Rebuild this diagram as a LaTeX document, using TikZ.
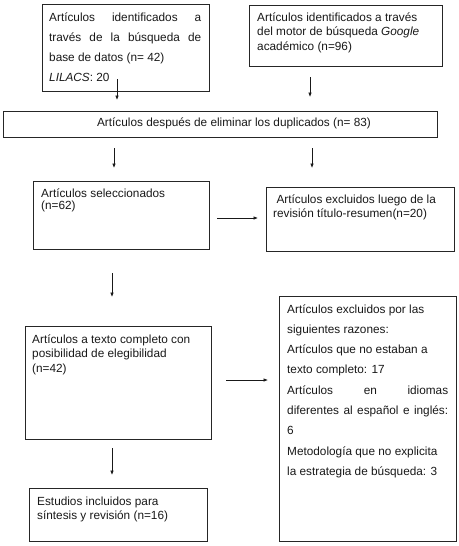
\documentclass[tikz,border=0pt]{standalone}
\usepackage{fontspec}
\setmainfont{Liberation Sans}
\usetikzlibrary{arrows.meta}
\begin{document}
\begin{tikzpicture}[x=1pt,y=-1pt,
  box/.style={draw=black!85, line width=0.8pt, inner sep=0pt, anchor=north west},
  txt/.style={anchor=base west, inner sep=0pt, text=black!90},
  fs/.style={font=\fontsize{11.8}{14.5}\selectfont},
  fswide/.style={font=\fontsize{11.8}{20.3}\selectfont},
  fstight/.style={font=\fontsize{11.8}{12}\selectfont},
  arr/.style={-{Latex[length=4.5pt,width=3.6pt]}, line width=0.7pt, draw=black!90}]
\useasboundingbox (0,0) rectangle (458,546);
\fill[white] (0,0) rectangle (458,546);
% boxes
\node[box, minimum width=167pt, minimum height=87pt] (b1) at (42,4) {};
\node[box, minimum width=193pt, minimum height=61pt] (b2) at (249,5) {};
\node[box, minimum width=434pt, minimum height=26pt] (b3) at (3,111) {};
\node[box, minimum width=176pt, minimum height=68pt] (b4) at (33,181) {};
\node[box, minimum width=188pt, minimum height=64pt] (b5) at (266,187) {};
\node[box, minimum width=186pt, minimum height=113pt] (b6) at (25,326) {};
\node[box, minimum width=177pt, minimum height=245pt] (b7) at (279,296) {};
\node[box, minimum width=178pt, minimum height=53pt] (b8) at (29,488) {};
% texts
\node[txt, fswide] (t1) at (49,21) {\parbox[t]{152pt}{%
  \makebox[\linewidth][s]{Artículos identificados a}\\
  \makebox[\linewidth][s]{través de la búsqueda de}\\
  base de datos (n= 42)\\
  \textit{LILACS}: 20}};
\node[txt, fs] (t2) at (257,21) {\parbox[t]{180pt}{%
  Artículos identificados a través\\
  del motor de búsqueda \textit{Google}\\
  académico (n=96)}};
\node[txt, fs, anchor=base] (t3) at (234,126) {Artículos después de eliminar los duplicados (n= 83)};
\node[txt, fstight] (t4) at (41,197) {\parbox[t]{165pt}{%
  Artículos seleccionados\\
  (n=62)}};
\node[txt, fs] (t5) at (273,203) {\parbox[t]{178pt}{%
  \hspace*{3.3pt}Artículos excluidos luego de la\\
  revisión título-resumen(n=20)}};
\node[txt, fs] (t6) at (32,343) {\parbox[t]{178pt}{%
  Artículos a texto completo con\\
  posibilidad de elegibilidad\\
  (n=42)}};
\node[txt, fswide] (t7) at (287,313) {\parbox[t]{161pt}{%
  Artículos excluidos por las\\
  siguientes razones:\\
  Artículos que no estaban a\\
  texto completo: 17\\
  \makebox[\linewidth][s]{Artículos en idiomas}\\
  \makebox[\linewidth][s]{diferentes al español e inglés:}\\
  6\\
  Metodología que no explicita\\
  la estrategia de búsqueda: 3}};
\node[txt, fs] (t8) at (37,505) {\parbox[t]{168pt}{%
  Estudios incluidos para\\
  síntesis y revisión (n=16)}};
% connector end points
\coordinate (a1s) at (117,79);  \coordinate (a1e) at (117,100);
\coordinate (a2s) at (310,77);  \coordinate (a2e) at (310,97);
\coordinate (a3s) at (114,148); \coordinate (a3e) at (114,168);
\coordinate (a4s) at (312,148); \coordinate (a4e) at (312,168);
\coordinate (a5s) at (217,218); \coordinate (a5e) at (258,218);
\coordinate (a6s) at (112,273); \coordinate (a6e) at (112,297);
\coordinate (a7s) at (226,380); \coordinate (a7e) at (268,380);
\coordinate (a8s) at (112,448); \coordinate (a8e) at (112,475);
\draw[arr] (a1s) -- (a1e);
\draw[arr] (a2s) -- (a2e);
\draw[arr] (a3s) -- (a3e);
\draw[arr] (a4s) -- (a4e);
\draw[arr] (a5s) -- (a5e);
\draw[arr] (a6s) -- (a6e);
\draw[arr] (a7s) -- (a7e);
\draw[arr] (a8s) -- (a8e);
\end{tikzpicture}
\end{document}
